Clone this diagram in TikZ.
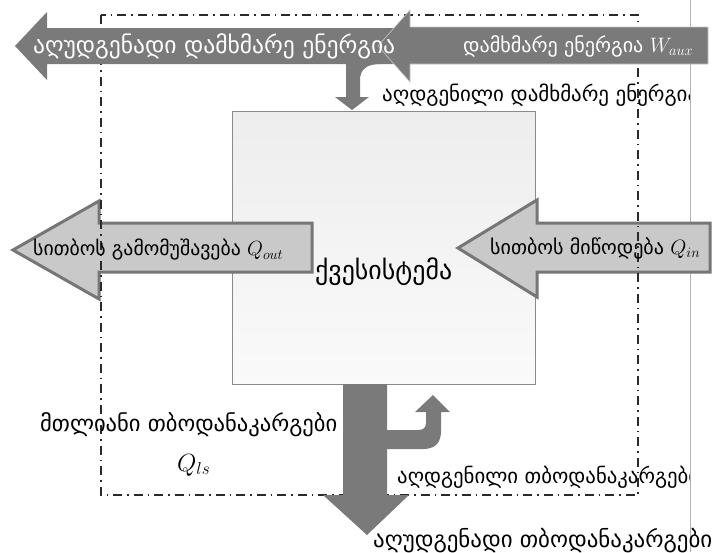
\documentclass[tikz,border=0pt]{standalone}
\usepackage{graphicx}
\usepackage{fontspec}
\newfontfamily\geo{DejaVu Sans}
\newcommand{\fitw}[2]{\resizebox{#1}{!}{#2}}
\definecolor{darkarrow}{HTML}{7A7A7A}
\definecolor{lightarrow}{HTML}{C9C9C9}
\definecolor{arrowedge}{HTML}{767676}
\definecolor{boxedge}{HTML}{8A8A8A}
\definecolor{boundary}{HTML}{2A2A2A}
\begin{document}
\begin{tikzpicture}[x=1pt,y=-1pt,
  darkflow/.style={fill=darkarrow},
  lightflow/.style={fill=lightarrow,draw=arrowedge,line width=3pt,line join=miter},
  boundaryline/.style={draw=boundary,line width=1.3pt,dash pattern=on 9pt off 5pt on 1.5pt off 5pt},
  geotext/.style={font=\geo\fontsize{20}{24}\selectfont,inner sep=0pt,anchor=west},
  whitetext/.style={geotext,text=white}]
\useasboundingbox (0,0) rectangle (718,552);
\fill[white] (0,0) rectangle (718,552);
% right thin vertical rule
\draw[gray!60,line width=0.8pt] (690,0) -- (690,552);
% subsystem box
\shade[top color=gray!14,bottom color=gray!4,draw=boxedge,line width=0.8pt] (232,111) rectangle (535,384);
\node[inner sep=0pt,minimum width=303pt,minimum height=273pt] (sys) at (383.5,247.5) {};
% light arrows
\path[lightflow] (13,250) -- (99,201) -- (99,223) -- (312,223) -- (312,272) -- (99,272) -- (99,299) -- cycle;
\path[lightflow] (458,248) -- (537,200) -- (537,223) -- (710,223) -- (710,272) -- (537,272) -- (537,297) -- cycle;
% system boundary
\path[boundaryline] (101,15) rectangle (638,495);
% top dark arrows
\path[darkflow] (15,46) -- (47,12) -- (47,28) -- (400,28) -- (400,64) -- (47,64) -- (47,80) -- cycle;
\path[darkflow,draw=gray!45,line width=0.6pt] (708,27) -- (410,27) -- (410,10) -- (378,46) -- (410,82) -- (410,64) -- (708,64) -- cycle;
\path[darkflow] (346,60) -- (346,97) -- (335,97) -- (352,110) -- (369,97) -- (360,97) -- (360,80)
   .. controls (360,70) and (366,64) .. (380,64) -- (380,60) -- cycle;
% bottom dark arrows
\path[darkflow] (343,384) -- (343,495) -- (323,495) -- (367,535) -- (409,495) -- (387,495) -- (387,384) -- cycle;
\path[darkflow] (385,430) -- (418,430) .. controls (423,430) and (426,428) .. (426,423) -- (426,412)
   -- (415,412) -- (433,395) -- (450,412) -- (441,412) -- (441,431)
   .. controls (441,443) and (435,449) .. (423,449) -- (385,449) -- cycle;
% labels
\node[whitetext] (t1) at (33,46) {\fitw{362pt}{აღუდგენადი დამხმარე ენერგია}};
\node[whitetext] (t2) at (463,46) {\fitw{230pt}{დამხმარე ენერგია $W_{aux}$}};
\node[geotext] (t4) at (33,250) {\fitw{250pt}{სითბოს გამომუშავება $Q_{out}$}};
\node[geotext] (t5) at (490,248) {\fitw{210pt}{სითბოს მიწოდება $Q_{in}$}};
\node[geotext] (t6) at (315,272) {\fitw{137pt}{ქვესისტემა}};
\node[geotext] (t7) at (40,425) {\fitw{297pt}{მთლიანი თბოდანაკარგები}};
\node[geotext,font=\fontsize{23}{26}\selectfont] (t8) at (177,465) {$Q_{ls}$};
\node[geotext] (t10) at (373,541) {\fitw{339pt}{აღუდგენადი თბოდანაკარგები}};
\begin{scope}
\clip (0,0) rectangle (689,552);
\node[geotext] (t3) at (382,95) {\fitw{316pt}{აღდგენილი დამხმარე ენერგია}};
\node[geotext] (t9) at (397,477) {\fitw{302pt}{აღდგენილი თბოდანაკარგები}};
\end{scope}
\end{tikzpicture}
\end{document}
